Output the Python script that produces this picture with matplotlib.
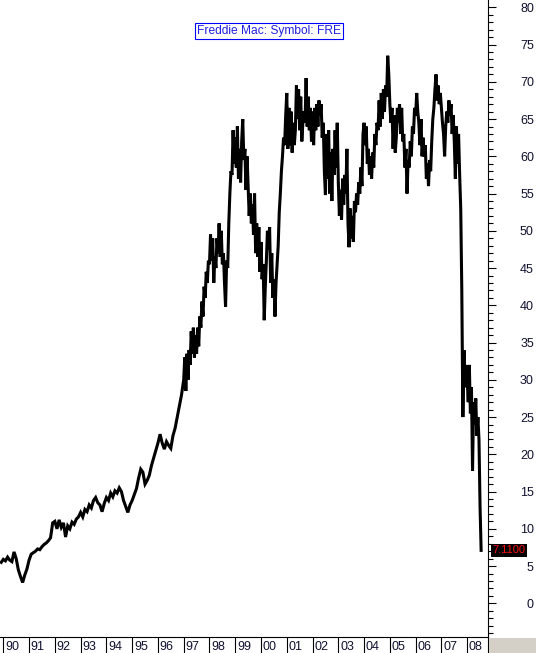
import matplotlib
matplotlib.use('Agg')
import matplotlib.pyplot as plt
from matplotlib.ticker import MultipleLocator, FixedLocator, FixedFormatter
from matplotlib.transforms import ScaledTranslation, blended_transform_factory
from matplotlib.patches import Rectangle

plt.rcParams['font.family'] = ['Liberation Sans', 'DejaVu Sans']

# ---- data (monthly closes 1990-1996, semi-monthly 1997-2008) ----
start_date = 1989.92
start_price = 5.5
p1990 = [5.9, 5.7, 6.2, 5.8, 5.6, 6.9, 6.0, 4.5, 3.6, 2.8, 3.8, 4.6]
p1991 = [5.8, 6.6, 6.8, 7.0, 7.3, 7.2, 7.6, 7.9, 8.1, 8.4, 8.8, 10.8]
p1992 = [11.0, 10.0, 11.2, 10.2, 10.8, 8.9, 10.4, 10.0, 10.9, 10.6, 11.3, 11.6]
p1993 = [12.2, 11.6, 12.6, 12.3, 13.2, 12.8, 13.8, 14.2, 13.5, 13.2, 12.3, 13.4]
p1994 = [14.2, 13.8, 14.8, 14.3, 15.1, 14.8, 15.5, 15.0, 13.8, 13.0, 12.2, 13.2]
p1995 = [13.8, 14.6, 15.4, 16.8, 18.0, 17.6, 16.0, 16.5, 17.2, 18.5, 19.5, 20.5]
p1996 = [21.5, 22.7, 21.5, 20.7, 21.7, 21.2, 20.8, 22.5, 23.5, 25.0, 26.5, 28.0]
p1997 = [30.0, 33.0, 28.5, 33.5, 30.0, 34.0, 32.0, 36.5, 33.5, 37.0, 33.0, 36.0,
         33.5, 37.0, 34.5, 38.5, 37.0, 40.5, 38.5, 42.5, 41.0, 44.5, 43.0, 46.0]
p1998 = [45.5, 49.5, 46.0, 49.0, 43.0, 46.5, 45.0, 49.0, 47.0, 51.0, 46.5, 50.0,
         45.5, 47.0, 43.0, 39.8, 46.0, 45.0, 51.0, 55.0, 58.0, 57.5, 63.5, 59.0]
p1999 = [62.5, 58.5, 64.0, 57.0, 61.0, 56.5, 62.0, 65.0, 59.5, 61.0, 55.5, 60.0,
         56.0, 52.0, 55.0, 51.0, 53.5, 49.5, 55.0, 47.0, 51.0, 46.5, 50.5, 44.5]
p2000 = [48.5, 43.5, 45.5, 38.0, 42.5, 46.0, 50.0, 47.5, 50.5, 43.0, 47.0, 41.0,
         43.5, 38.5, 43.0, 45.5, 48.0, 52.5, 55.0, 58.0, 60.0, 62.5, 61.5, 65.5]
p2001 = [68.5, 61.0, 66.5, 61.5, 66.0, 60.5, 64.5, 61.5, 63.5, 69.5, 65.0, 69.0,
         63.5, 68.0, 62.0, 64.5, 66.0, 64.5, 70.5, 64.0, 68.0, 63.5, 66.5, 62.0]
p2002 = [66.0, 61.5, 66.5, 63.5, 67.0, 64.0, 67.5, 65.5, 67.0, 62.5, 64.5, 58.0,
         54.8, 63.0, 57.0, 63.5, 55.0, 60.5, 54.0, 61.0, 57.5, 63.5, 58.5, 64.5]
p2003 = [56.5, 52.0, 55.5, 51.5, 57.0, 53.5, 57.5, 55.0, 61.0, 51.0, 47.8, 53.0,
         49.0, 52.0, 48.5, 54.0, 52.5, 55.0, 53.5, 56.5, 55.0, 58.5, 56.0, 63.0]
p2004 = [64.5, 61.5, 64.0, 59.0, 61.0, 57.5, 60.0, 57.0, 60.5, 58.5, 63.0, 61.5,
         64.5, 63.5, 67.5, 64.0, 68.5, 65.0, 69.0, 66.0, 69.5, 68.0, 73.5, 71.0]
p2005 = [67.0, 64.5, 66.5, 61.0, 65.5, 60.5, 62.5, 66.5, 64.5, 67.0, 63.0, 66.5,
         62.0, 63.0, 58.5, 61.0, 55.0, 59.5, 58.5, 62.0, 60.0, 64.0, 63.0, 66.5]
p2006 = [65.5, 68.5, 66.0, 64.5, 61.5, 65.0, 60.0, 62.5, 60.0, 61.5, 57.0, 59.0,
         56.0, 59.5, 58.0, 62.0, 65.0, 66.5, 69.0, 71.0, 67.5, 69.5, 67.0, 68.5]
p2007 = [66.5, 64.5, 63.0, 60.0, 64.0, 66.0, 64.5, 67.5, 65.5, 67.0, 63.0, 65.5,
         62.0, 57.0, 64.0, 59.0, 63.0, 57.5, 53.0, 42.0, 25.0, 34.0, 29.0, 32.0]
p2008 = [30.0, 27.0, 32.0, 25.5, 29.0, 17.8, 27.0, 24.0, 27.5, 22.5, 25.0, 22.0,
         13.0, 7.11]

monthly_years = list(range(1990, 1997))
monthly_series = [p1990, p1991, p1992, p1993, p1994, p1995, p1996]
semimonthly_years = list(range(1997, 2009))
semimonthly_series = [p1997, p1998, p1999, p2000, p2001, p2002, p2003, p2004,
                      p2005, p2006, p2007, p2008]

year_labels = ['90', '91', '92', '93', '94', '95', '96', '97', '98', '99',
               '00', '01', '02', '03', '04', '05', '06', '07', '08']
year_ticks = list(range(1990, 2009))
title_text = 'Freddie Mac: Symbol: FRE'
last_label = '7.1100'

dates = [start_date]
prices = [start_price]
for yr, s in zip(monthly_years, monthly_series):
    for i, v in enumerate(s):
        dates.append(yr + i / 12.0)
        prices.append(v)
for yr, s in zip(semimonthly_years, semimonthly_series):
    for i, v in enumerate(s):
        dates.append(yr + i / 24.0)
        prices.append(v)

# ---- figure ----
W, H = 536, 653
fig = plt.figure(figsize=(W / 100, H / 100), dpi=100)
ax_w = 487.5
ax_b = 16.3
ax = fig.add_axes([0, ax_b / H, ax_w / W, (H - ax_b) / H])

ax.plot(dates, prices, color='black', lw=2.2, solid_joinstyle='miter')

x0, x1 = 1989.872, 2008.789
ax.set_xlim(x0, x1)
ax.set_ylim(-4.48, 80.98)

for s in ['top', 'left']:
    ax.spines[s].set_visible(False)
for s in ['right', 'bottom']:
    ax.spines[s].set_linewidth(0.8)
    ax.spines[s].set_color('black')

tick_color = '#101030'
# y axis on the right
ax.yaxis.tick_right()
ax.yaxis.set_major_locator(MultipleLocator(5))
ax.yaxis.set_minor_locator(MultipleLocator(1))
ax.tick_params(axis='y', which='major', length=5.8, width=0.8, direction='out',
               pad=27.6, labelsize=9, labelcolor=tick_color)
ax.tick_params(axis='y', which='minor', length=3.6, width=0.8, direction='out')

# x axis: year separators with labels to the right of each
ax.xaxis.set_major_locator(FixedLocator(year_ticks + [x1]))
ax.xaxis.set_major_formatter(FixedFormatter(year_labels + ['']))
ax.tick_params(axis='x', which='major', length=ax_b * 0.72, width=0.8,
               direction='out', pad=-8.9, labelsize=9, labelcolor=tick_color)

# title box
ax.text(269 / ax_w, 1 - 31 / (H - ax_b), title_text, transform=ax.transAxes,
        ha='center', va='center', fontsize=8.64, color='#2020e0',
        bbox=dict(boxstyle='square,pad=0.15', facecolor='white',
                  edgecolor='#0000ff', linewidth=0.8))

# last price label
trans = blended_transform_factory(ax.transAxes, ax.transData)
ax.text(492.5 / ax_w, prices[-1], last_label, transform=trans, ha='left',
        va='center', fontsize=8, color='#ff1010', clip_on=False,
        bbox=dict(boxstyle='square,pad=0.12', facecolor='black',
                  edgecolor='black', linewidth=0))

# gray corner box
fig.patches.append(Rectangle((489 / W, 0), (W - 489) / W, 15 / H,
                             transform=fig.transFigure, facecolor='#d4d0c8',
                             edgecolor='none'))

fig.canvas.draw()
plt.setp(ax.get_yticklabels(), ha='right')
off = ScaledTranslation(1.8 / 100, 0, fig.dpi_scale_trans)
for lab in ax.get_xticklabels():
    lab.set_horizontalalignment('left')
    lab.set_transform(lab.get_transform() + off)

fig.savefig('out.png', dpi=100)
